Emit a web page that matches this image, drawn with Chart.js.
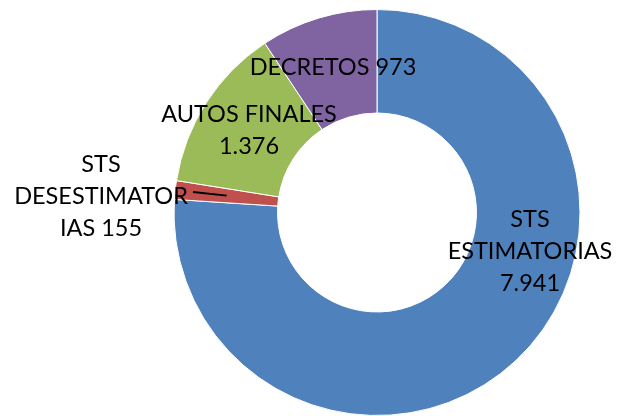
<!DOCTYPE html>
<html>
<head>
<meta charset="utf-8">
<script src="https://cdn.jsdelivr.net/npm/chart.js@4/dist/chart.umd.min.js"></script>
<style>
  html, body { margin: 0; padding: 0; background: #ffffff; }
  #wrap { width: 617px; height: 416px; position: relative; }
</style>
</head>
<body>
<div id="wrap"><canvas id="c" width="617" height="416"></canvas></div>
<script>
// ---- data ----
const categories = ["STS ESTIMATORIAS", "STS DESESTIMATORIAS", "AUTOS FINALES", "DECRETOS"];
const values = [7941, 155, 1376, 973];
const colors = ["#4F81BD", "#C0504D", "#9BBB59", "#8064A2"];

// ---- label layout (positions / wrapping only) ----
const labelLayout = [
  { x: 530, y: 219, maxChars: 12 },
  { x: 101, y: 164, maxChars: 12, leaderFrom: [193, 192] },
  { x: 249, y: 114, maxChars: 13 },
  { x: 333, y: 67,  maxChars: 13 }
];
const FONT_SIZE = 23.5;
const LINE_H = 32;

function fmt(v) {
  return String(v).replace(/\B(?=(\d{3})+(?!\d))/g, ".");
}
function wrap(text, maxChars) {
  const words = text.split(" ");
  const lines = [];
  let cur = "";
  for (let w of words) {
    while (w.length > maxChars) {
      if (cur) { lines.push(cur); cur = ""; }
      lines.push(w.slice(0, maxChars));
      w = w.slice(maxChars);
    }
    const cand = cur ? cur + " " + w : w;
    if (cand.length <= maxChars) cur = cand;
    else { if (cur) lines.push(cur); cur = w; }
  }
  if (cur) lines.push(cur);
  return lines;
}

const labelPlugin = {
  id: "labels",
  afterDraw(chart) {
    const ctx = chart.ctx;
    const meta = chart.getDatasetMeta(0);
    ctx.save();
    ctx.font = FONT_SIZE + "px Lato, 'Open Sans', sans-serif";
    ctx.fillStyle = "#000";
    ctx.textAlign = "center";
    ctx.textBaseline = "middle";
    categories.forEach((cat, i) => {
      const L = labelLayout[i];
      const lines = wrap(cat + " " + fmt(values[i]), L.maxChars);
      lines.forEach((ln, k) => ctx.fillText(ln, L.x, L.y + k * LINE_H));
      if (L.leaderFrom) {
        const arc = meta.data[i];
        const p = arc.getProps(["x", "y", "startAngle", "endAngle", "innerRadius", "outerRadius"], true);
        const a = (p.startAngle + p.endAngle) / 2;
        const r = (p.innerRadius + p.outerRadius) / 2;
        ctx.beginPath();
        ctx.strokeStyle = "#000";
        ctx.lineWidth = 1.8;
        ctx.moveTo(L.leaderFrom[0], L.leaderFrom[1]);
        ctx.lineTo(p.x + r * Math.cos(a), p.y + r * Math.sin(a));
        ctx.stroke();
      }
    });
    ctx.restore();
  }
};

new Chart(document.getElementById("c"), {
  type: "doughnut",
  data: {
    labels: categories,
    datasets: [{
      data: values,
      backgroundColor: colors,
      borderColor: "#ffffff",
      borderWidth: 1
    }]
  },
  options: {
    responsive: false,
    animation: false,
    cutout: "49%",
    layout: { padding: { left: 173, right: 36, top: 9, bottom: 0 } },
    plugins: {
      legend: { display: false },
      tooltip: { enabled: false }
    }
  },
  plugins: [labelPlugin]
});
</script>
</body>
</html>
